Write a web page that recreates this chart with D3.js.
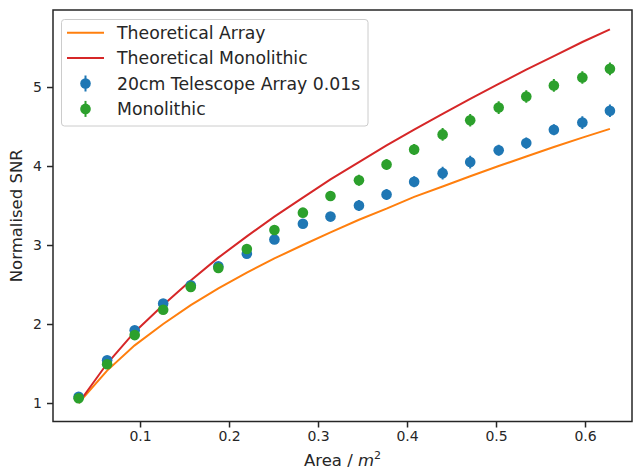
<!DOCTYPE html>
<html>
<head>
<meta charset="utf-8">
<script src="https://cdn.jsdelivr.net/npm/d3@7"></script>
<style>
    body { margin: 0; background: #fff; }
    text { font-family: "DejaVu Sans", sans-serif; fill: #262626; }
</style>
</head>
<body>
<script>
// area of n 20cm telescopes (m^2)
var area = [0.031, 0.063, 0.094, 0.126, 0.157, 0.188, 0.220, 0.251, 0.283, 0.314,
    0.346, 0.377, 0.408, 0.440, 0.471, 0.503, 0.534, 0.565, 0.597, 0.628];

// theoretical curves
var theoArray = [1.00, 1.41, 1.73, 2.00, 2.24, 2.45, 2.65, 2.83, 3.00, 3.16,
    3.32, 3.46, 3.61, 3.74, 3.87, 4.00, 4.12, 4.24, 4.36, 4.47];
var theoMono = [1.00, 1.50, 1.90, 2.24, 2.55, 2.84, 3.11, 3.36, 3.60, 3.83,
    4.05, 4.26, 4.46, 4.66, 4.85, 5.04, 5.22, 5.39, 5.57, 5.73];

// measured points
var arraySnr = [1.08, 1.54, 1.92, 2.26, 2.49, 2.73, 2.89, 3.07, 3.27, 3.36,
    3.50, 3.64, 3.80, 3.91, 4.05, 4.20, 4.29, 4.46, 4.55, 4.70];
var arrayErr = [0.02, 0.03, 0.03, 0.04, 0.04, 0.04, 0.05, 0.05, 0.05, 0.05,
    0.07, 0.07, 0.07, 0.08, 0.08, 0.07, 0.07, 0.07, 0.08, 0.08];
var monoSnr = [1.06, 1.49, 1.86, 2.18, 2.47, 2.71, 2.95, 3.19, 3.41, 3.62,
    3.82, 4.02, 4.21, 4.40, 4.58, 4.74, 4.88, 5.02, 5.12, 5.23];
var monoErr = [0.02, 0.03, 0.03, 0.04, 0.04, 0.04, 0.05, 0.05, 0.05, 0.05,
    0.07, 0.07, 0.07, 0.08, 0.08, 0.08, 0.08, 0.08, 0.08, 0.08];

var xTicks = [0.1, 0.2, 0.3, 0.4, 0.5, 0.6];
var yTicks = [1, 2, 3, 4, 5];

var legendNames = ["Theoretical Array", "Theoretical Monolithic", "20cm Telescope Array 0.01s", "Monolithic"];

var colors = {
    orange: "#ff7f0e",
    red: "#d62728",
    blue: "#1f77b4",
    green: "#2ca02c"
};

var W = 633, H = 471;
var margin = { top: 10, right: 1, bottom: 49.5, left: 53 },
    width = W - margin.left - margin.right,
    height = H - margin.top - margin.bottom;

var x = d3.scaleLinear().domain([0.0022, 0.6528]).range([0, width]);
var y = d3.scaleLinear().domain([0.766, 5.975]).range([height, 0]);

var svg = d3.select("body").append("svg")
    .attr("width", W)
    .attr("height", H);

var g = svg.append("g")
    .attr("transform", "translate(" + margin.left + "," + margin.top + ")");

// axes
var xAxis = g.append("g")
    .attr("transform", "translate(0," + height + ")")
    .call(d3.axisBottom(x).tickValues(xTicks).tickSize(6).tickPadding(4).tickFormat(d3.format(".1f")));
var yAxis = g.append("g")
    .call(d3.axisLeft(y).tickValues(yTicks).tickSize(6).tickPadding(5).tickFormat(d3.format("d")));

[xAxis, yAxis].forEach(function (a) {
    a.select(".domain").remove();
    a.selectAll(".tick line").attr("stroke", "#262626").attr("stroke-width", 1.5);
    a.selectAll(".tick text")
        .style("font-family", "DejaVu Sans")
        .style("font-size", "14px")
        .attr("fill", "#262626");
});

// clip for data
svg.append("clipPath").attr("id", "clip")
    .append("rect").attr("width", width).attr("height", height);

var plot = g.append("g").attr("clip-path", "url(#clip)");

var line = d3.line()
    .x(function (d, i) { return x(area[i]); })
    .y(function (d) { return y(d); });

plot.append("path")
    .datum(theoArray)
    .attr("d", line)
    .attr("fill", "none")
    .attr("stroke", colors.orange)
    .attr("stroke-width", 2);

plot.append("path")
    .datum(theoMono)
    .attr("d", line)
    .attr("fill", "none")
    .attr("stroke", colors.red)
    .attr("stroke-width", 2);

// errorbar points
function drawPoints(vals, errs, color) {
    var pts = plot.append("g").selectAll("g")
        .data(vals)
        .enter().append("g");
    pts.append("line")
        .attr("x1", function (d, i) { return x(area[i]); })
        .attr("x2", function (d, i) { return x(area[i]); })
        .attr("y1", function (d, i) { return y(d - errs[i]); })
        .attr("y2", function (d, i) { return y(d + errs[i]); })
        .attr("stroke", color)
        .attr("stroke-width", 2);
    pts.append("circle")
        .attr("cx", function (d, i) { return x(area[i]); })
        .attr("cy", function (d) { return y(d); })
        .attr("r", 5.3)
        .attr("fill", color);
}
drawPoints(arraySnr, arrayErr, colors.blue);
drawPoints(monoSnr, monoErr, colors.green);

// frame
g.append("rect")
    .attr("width", width)
    .attr("height", height)
    .attr("fill", "none")
    .attr("stroke", "#262626")
    .attr("stroke-width", 1.5);

// axis labels
var xl = svg.append("text")
    .attr("x", margin.left + width / 2)
    .attr("y", 466)
    .attr("text-anchor", "middle")
    .style("font-size", "16.5px");
xl.append("tspan").text("Area / ");
xl.append("tspan").style("font-style", "italic").text("m");
xl.append("tspan").attr("dy", -7).style("font-size", "11px").text("2");

svg.append("text")
    .attr("transform", "translate(22," + (margin.top + height / 2) + ") rotate(-90)")
    .attr("text-anchor", "middle")
    .style("font-size", "16.5px")
    .text("Normalised SNR");

// legend
var leg = svg.append("g");
leg.append("rect")
    .attr("x", 61.5)
    .attr("y", 19.5)
    .attr("width", 306.5)
    .attr("height", 106.5)
    .attr("rx", 3)
    .attr("fill", "white")
    .attr("fill-opacity", 0.8)
    .attr("stroke", "#cccccc")
    .attr("stroke-width", 1);

var legColors = [colors.orange, colors.red, colors.blue, colors.green];
var rows = leg.selectAll(".row")
    .data(legendNames)
    .enter().append("g")
    .attr("class", "row")
    .attr("transform", function (d, i) { return "translate(0," + (32.7 + i * 25.4) + ")"; });

rows.each(function (d, i) {
    var r = d3.select(this);
    if (i < 2) {
        r.append("line")
            .attr("x1", 67).attr("x2", 104)
            .attr("stroke", legColors[i]).attr("stroke-width", 2);
    } else {
        r.append("line")
            .attr("x1", 85.5).attr("x2", 85.5)
            .attr("y1", -8).attr("y2", 8)
            .attr("stroke", legColors[i]).attr("stroke-width", 2);
        r.append("circle")
            .attr("cx", 85.5).attr("r", 5.3)
            .attr("fill", legColors[i]);
    }
    r.append("text")
        .attr("x", 117)
        .attr("dy", "0.36em")
        .style("font-size", "17.3px")
        .text(d);
});
</script>
</body>
</html>
